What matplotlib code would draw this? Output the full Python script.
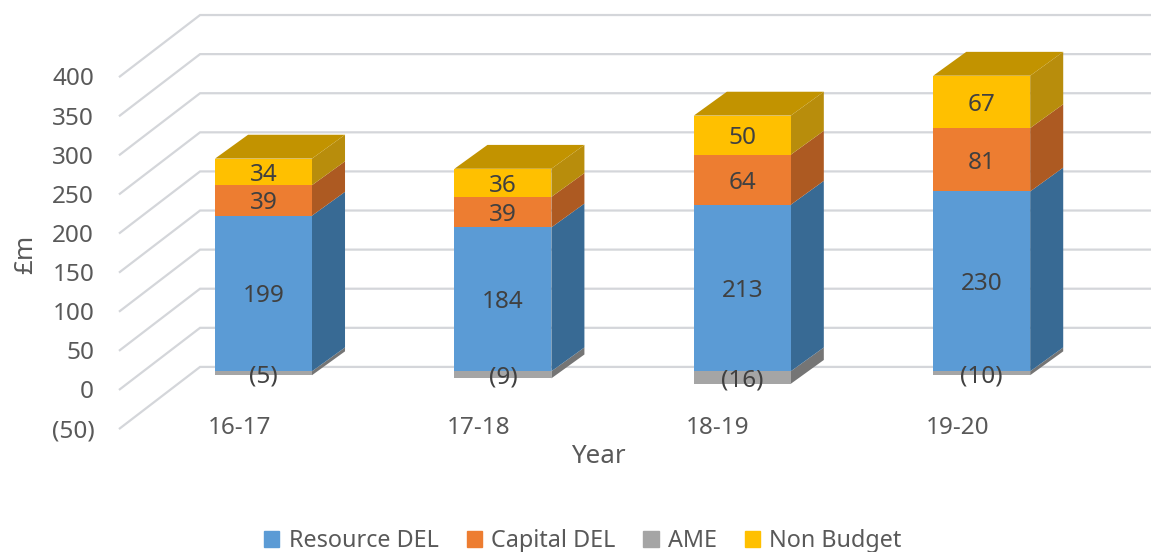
import matplotlib
matplotlib.use('Agg')
import matplotlib.pyplot as plt
from matplotlib.patches import Polygon, Patch

plt.rcParams['font.family'] = ['Noto Sans', 'DejaVu Sans']

years = ['16-17', '17-18', '18-19', '19-20']
resource_del = [199, 184, 213, 230]
capital_del = [39, 39, 64, 81]
# bar depths as drawn in the picture, the last one is shorter than its (10) label
ame = [-5, -9, -16, -5]
non_budget = [34, 36, 50, 67]

ame_labels = ['(5)', '(9)', '(16)', '(10)']
y_ticks = [400, 350, 300, 250, 200, 150, 100, 50, 0, -50]
y_tick_labels = ['400', '350', '300', '250', '200', '150', '100', '50', '0', '(50)']

TEXT = '#595959'
GRID = '#d4d6da'
FS = 17.5

# (front, side) colours of each series
blue = ('#5b9bd5', '#386a94')
orange = ('#ed7d31', '#ad5a22')
grey = ('#a5a5a5', '#757575')
gold = ('#ffc000', '#b88d0c')
top_colour = '#c29300'

fig = plt.figure(figsize=(11.51, 5.52), dpi=100)
ax = fig.add_axes([0, 0, 1, 1])

# one x unit = distance between bars, y is in £m on the plane of the bar fronts
ax.set_xlim(-263.5 / 239.4, (1151 - 263.5) / 239.4)
ax.set_ylim((371.3 - 552) / 0.782, 371.3 / 0.782)
ax.axis('off')

x_pos = list(range(len(years)))
w = 0.405
dx = 0.138      # bar depth
dy = 30.5

# fake 3d floor/wall offsets
front_x = -0.6
back_x = -0.265
end_x = 3.71
front_off = -23
back_off = 55.6

for v in y_ticks:
    ax.plot([front_x, back_x, end_x], [v + front_off, v + back_off, v + back_off],
            color=GRID, lw=1.6, zorder=1, solid_joinstyle='miter')


def draw_segment(x, bottom, top, cols):
    ax.bar(x, top - bottom, w, bottom=bottom, color=cols[0], zorder=3)
    r = x + w / 2
    ax.add_patch(Polygon([(r, bottom), (r + dx, bottom + dy), (r + dx, top + dy), (r, top)],
                         closed=True, facecolor=cols[1], edgecolor='none', zorder=2))


for i, x in enumerate(x_pos):
    r_top = resource_del[i]
    c_top = r_top + capital_del[i]
    n_top = c_top + non_budget[i]

    draw_segment(x, ame[i], 0, grey)
    draw_segment(x, 0, r_top, blue)
    draw_segment(x, r_top, c_top, orange)
    draw_segment(x, c_top, n_top, gold)

    l = x - w / 2
    r = x + w / 2
    ax.add_patch(Polygon([(l, n_top), (l + dx, n_top + dy), (r + dx, n_top + dy), (r, n_top)],
                         closed=True, facecolor=top_colour, edgecolor='none', zorder=2))

    ax.text(x, r_top / 2, str(resource_del[i]), ha='center', va='center_baseline', fontsize=FS, color='#404040', zorder=5)
    ax.text(x, r_top + capital_del[i] / 2, str(capital_del[i]), ha='center', va='center_baseline', fontsize=FS, color='#404040', zorder=5)
    ax.text(x, c_top + non_budget[i] / 2, str(non_budget[i]), ha='center', va='center_baseline', fontsize=FS, color='#404040', zorder=5)
    ax.text(x, ame[i] / 2, ame_labels[i], ha='center', va='center_baseline', fontsize=FS, color='#404040', zorder=5)

    ax.text(x - 0.102, -68.6, years[i], ha='center', va='center_baseline', fontsize=FS, color=TEXT)

for v, lab in zip(y_ticks, y_tick_labels):
    ax.text(-0.707, v + front_off, lab, ha='right', va='center_baseline', fontsize=FS, color=TEXT)

ax.text(1.397, -105, 'Year', ha='center', va='center_baseline', fontsize=18.7, color=TEXT)
ax.text(-0.992, 150, '£m', ha='center', va='center', rotation=90, fontsize=18.7, color=TEXT)

handles = [Patch(color=blue[0]), Patch(color=orange[0]), Patch(color=grey[0]), Patch(color=gold[0])]
fig.legend(handles, ['Resource DEL', 'Capital DEL', 'AME', 'Non Budget'],
           loc='lower center', bbox_to_anchor=(0.5065, -0.04), ncol=4, frameon=False,
           fontsize=16.8, labelcolor=TEXT, handlelength=0.65, handleheight=0.65,
           handletextpad=0.4, columnspacing=1.2)

fig.savefig('out.png', dpi=100)
